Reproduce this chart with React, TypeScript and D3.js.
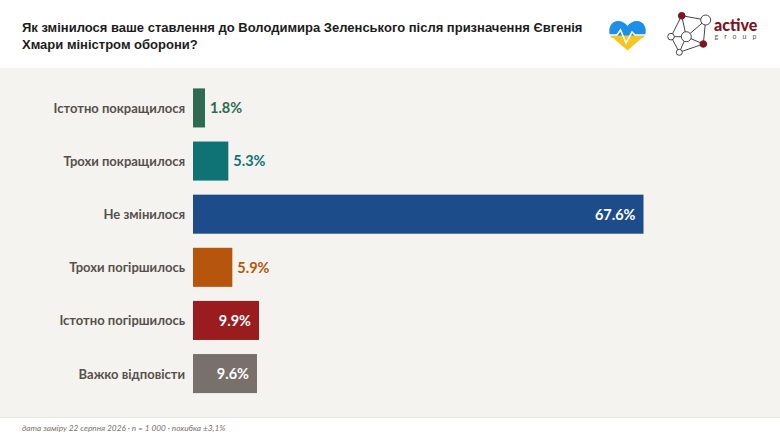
// App.tsx
import { useEffect, useRef } from 'react'
import * as d3 from 'd3'

const titleLines = [
  'Як змінилося ваше ставлення до Володимира Зеленського після призначення Євгенія',
  'Хмари міністром оборони?',
]
const categories = [
  'Істотно покращилося',
  'Трохи покращилося',
  'Не змінилося',
  'Трохи погіршилось',
  'Істотно погіршилось',
  'Важко відповісти',
]
const values = [1.8, 5.3, 67.6, 5.9, 9.9, 9.6]
const colors = ['#2f6b52', '#0f7375', '#1d4c8a', '#b5560c', '#9b1c1f', '#78706a']
const footnote = 'дата заміру 22 серпня 2026 · n = 1 000 · похибка ±3,1%'

const W = 780
const H = 439

export default function App() {
  const ref = useRef<SVGSVGElement>(null)

  useEffect(() => {
    document.body.style.margin = '0'
    const svg = d3.select(ref.current)
    svg.selectAll('*').remove()

    svg.append('rect').attr('width', W).attr('height', H).attr('fill', '#ffffff')
    svg.append('rect').attr('y', 68).attr('width', W).attr('height', 350).attr('fill', '#f5f3ef')
    svg.append('line').attr('x1', 0).attr('x2', W).attr('y1', 417.5).attr('y2', 417.5)
      .attr('stroke', '#e8e6e2')

    // Заголовок
    svg.selectAll('.title')
      .data(titleLines)
      .enter()
      .append('text')
      .attr('class', 'title')
      .attr('x', 22)
      .attr('y', (_, i) => 32 + i * 17)
      .attr('fill', '#1c1c1c')
      .style('font-family', '"Liberation Sans", sans-serif')
      .style('font-size', '13px')
      .style('font-weight', 'bold')
      .text(d => d)

    // Шкали
    const x = d3.scaleLinear().domain([0, 67.6]).range([193, 643.5])
    const y = d3.scaleBand()
      .domain(categories)
      .range([81.5, 400])
      .paddingInner(0.265)
      .paddingOuter(0.13)

    const rows = categories.map((c, i) => ({ c, v: values[i], color: colors[i] }))

    svg.selectAll('.bar')
      .data(rows)
      .enter()
      .append('rect')
      .attr('class', 'bar')
      .attr('x', x(0))
      .attr('y', d => y(d.c) || 0)
      .attr('width', d => x(d.v) - x(0))
      .attr('height', y.bandwidth())
      .attr('fill', d => d.color)

    svg.selectAll('.cat')
      .data(rows)
      .enter()
      .append('text')
      .attr('class', 'cat')
      .attr('x', x(0) - 8)
      .attr('y', d => (y(d.c) || 0) + y.bandwidth() / 2)
      .attr('dy', '0.38em')
      .attr('text-anchor', 'end')
      .attr('fill', '#55504c')
      .style('font-family', 'Lato, sans-serif')
      .style('font-size', '13px')
      .style('font-weight', 'bold')
      .text(d => d.c)

    // Підписи значень: всередині довгих смуг, поруч для коротких
    svg.selectAll('.val')
      .data(rows)
      .enter()
      .append('text')
      .attr('class', 'val')
      .attr('x', d => (d.v > 9 ? x(d.v) - 8 : x(d.v) + 5))
      .attr('y', d => (y(d.c) || 0) + y.bandwidth() / 2)
      .attr('dy', '0.37em')
      .attr('text-anchor', d => (d.v > 9 ? 'end' : 'start'))
      .attr('fill', d => (d.v > 9 ? '#ffffff' : d.color))
      .style('font-family', 'Lato, sans-serif')
      .style('font-size', '14.5px')
      .style('font-weight', 'bold')
      .text(d => `${d.v}%`)

    svg.append('text')
      .attr('x', 22)
      .attr('y', 431)
      .attr('fill', '#77726e')
      .style('font-family', 'Lato, sans-serif')
      .style('font-size', '8.25px')
      .style('font-style', 'italic')
      .text(footnote)

    // Логотип: серце
    const heart = svg.append('g')
    heart.append('path')
      .attr('d', 'M627.5 50.5 L612 37 L643 37 Z')
      .attr('fill', '#f7c520')
    heart.append('path')
      .attr('d', 'M609.5 34.5 L645.5 34.5 L643 38 L612 38 Z')
      .attr('fill', '#f7c520')
    heart.append('path')
      .attr('d', 'M610 35.5 C607.5 28 611.5 21 618 21 C622 21 625.5 23 627.5 26 C629.5 23 633 21 637 21 C643.5 21 647.5 28 645 35.5 Z')
      .attr('fill', '#1e8fe8')
    heart.append('path')
      .attr('d', 'M609 35 L617 35 L620.5 30 L626 43 L632 32 L635 35 L646 35')
      .attr('fill', 'none')
      .attr('stroke', '#ffffff')
      .attr('stroke-width', 1.6)

    // Логотип: active group
    const nodes = [
      { id: 'a', cx: 681.7, cy: 15.7, r: 3.3, red: true },
      { id: 'b', cx: 705.7, cy: 20, r: 5, red: false },
      { id: 'c', cx: 703.3, cy: 44, r: 3.3, red: true },
      { id: 'd', cx: 671, cy: 36.7, r: 3.3, red: false },
      { id: 'e', cx: 686.3, cy: 36.7, r: 5, red: false },
      { id: 'f', cx: 679.3, cy: 52.3, r: 3, red: false },
    ]
    const links = ['ab', 'bc', 'cf', 'fd', 'da', 'de', 'ae', 'eb', 'ef', 'ec']
    const node = (id: string) => nodes.find(n => n.id === id)!
    const logo = svg.append('g')
    logo.selectAll('line')
      .data(links)
      .enter()
      .append('line')
      .attr('x1', d => node(d[0]).cx)
      .attr('y1', d => node(d[0]).cy)
      .attr('x2', d => node(d[1]).cx)
      .attr('y2', d => node(d[1]).cy)
      .attr('stroke', '#444444')
      .attr('stroke-width', 1)
    logo.selectAll('circle')
      .data(nodes)
      .enter()
      .append('circle')
      .attr('cx', d => d.cx)
      .attr('cy', d => d.cy)
      .attr('r', d => d.r)
      .attr('fill', d => (d.red ? '#7d1420' : '#ffffff'))
      .attr('stroke', d => (d.red ? '#7d1420' : '#444444'))
      .attr('stroke-width', 1)
    svg.append('text')
      .attr('x', 714)
      .attr('y', 30.5)
      .attr('fill', '#7d1420')
      .style('font-family', 'Lato, sans-serif')
      .style('font-size', '16px')
      .style('font-weight', 900)
      .text('active')
    svg.append('text')
      .attr('x', 714.5)
      .attr('y', 39)
      .attr('fill', '#555555')
      .style('font-family', 'Lato, sans-serif')
      .style('font-size', '7px')
      .style('letter-spacing', '6px')
      .text('group')
  }, [])

  return <svg ref={ref} width={W} height={H} style={{ display: 'block' }} />
}
